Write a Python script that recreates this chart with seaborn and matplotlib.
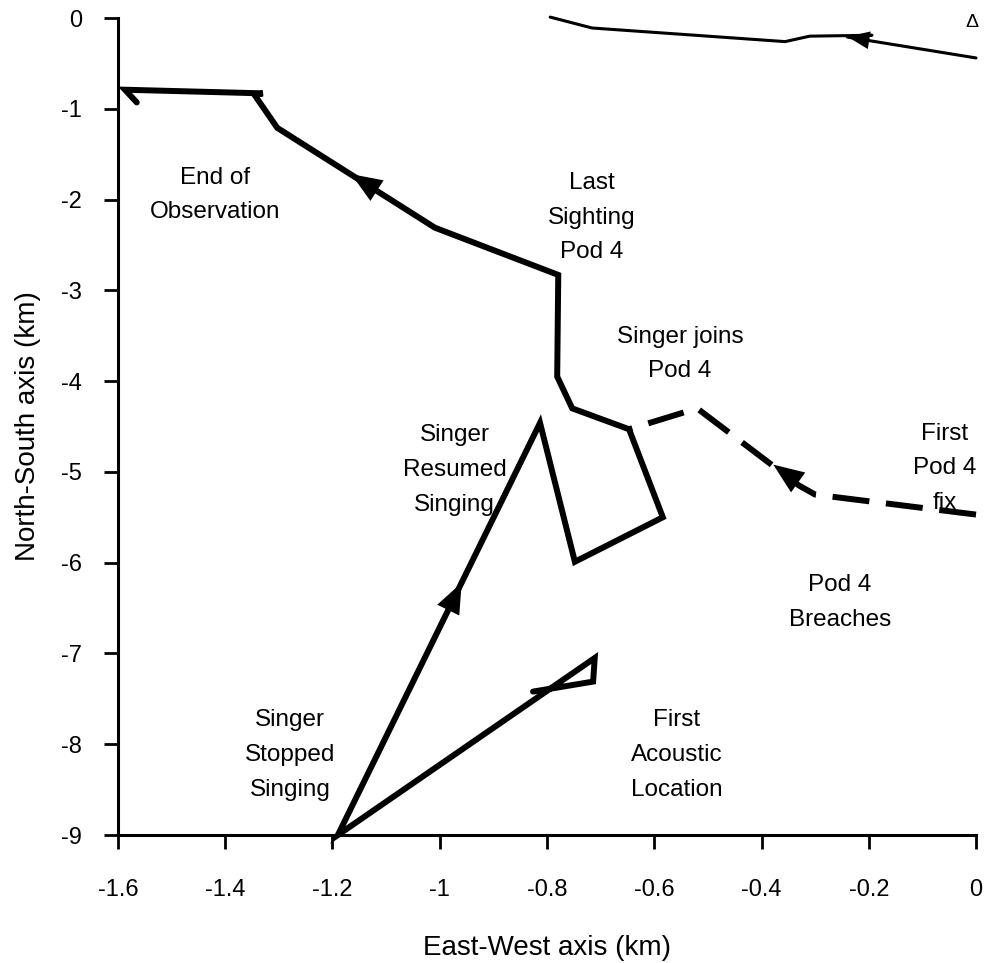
import matplotlib
matplotlib.use("Agg")
import matplotlib.pyplot as plt
import seaborn as sns
import pandas as pd

# ---- data (km) ----
singer_x = [-0.826, -0.714, -0.711, -1.19, -0.813, -0.748, -0.584, -0.647, -0.753,
            -0.781, -0.779, -1.009, -1.303, -1.345, -1.33, -1.587, -1.565]
singer_y = [-7.42, -7.31, -7.05, -9.0, -4.46, -5.99, -5.50, -4.53, -4.30,
            -3.95, -2.83, -2.31, -1.21, -0.85, -0.83, -0.79, -0.93]

pod4_x = [0.0, -0.30, -0.33, -0.52, -0.647]
pod4_y = [-5.47, -5.25, -5.15, -4.30, -4.53]

top_x = [-0.794, -0.716, -0.356, -0.31, -0.194, -0.24, 0.0]
top_y = [0.01, -0.11, -0.26, -0.20, -0.19, -0.21, -0.44]

# arrow heads: (tail_x, tail_y, tip_x, tip_y) - tail is the segment start
arrows = [(-1.009, -2.31, -1.165, -1.72),
          (-1.19, -9.0, -0.959, -6.22),
          (-0.30, -5.25, -0.378, -4.92),
          (0.0, -0.44, -0.24, -0.205)]

labels = ["End of\nObservation", "Last\nSighting\nPod 4", "Singer joins\nPod 4",
          "Singer\nResumed\nSinging", "First\nPod 4\nfix", "Pod 4\nBreaches",
          "Singer\nStopped\nSinging", "First\nAcoustic\nLocation"]
label_x = [-1.419, -0.716, -0.552, -0.972, -0.058, -0.254, -1.279, -0.558]
label_y = [-1.95, -2.20, -3.70, -4.98, -4.96, -6.44, -8.12, -8.12]

x_ticks = [-1.6, -1.4, -1.2, -1.0, -0.8, -0.6, -0.4, -0.2, 0.0]
x_ticklabels = ["-1.6", "-1.4", "-1.2", "-1", "-0.8", "-0.6", "-0.4", "-0.2", "0"]
y_ticks = [0, -1, -2, -3, -4, -5, -6, -7, -8, -9]
y_ticklabels = ["0", "-1", "-2", "-3", "-4", "-5", "-6", "-7", "-8", "-9"]

# ---- style ----
sns.set_style("ticks")
plt.rcParams['font.family'] = ['Liberation Sans', 'DejaVu Sans']
plt.rcParams['text.color'] = 'black'
plt.rcParams['axes.labelcolor'] = 'black'
plt.rcParams['xtick.color'] = 'black'
plt.rcParams['ytick.color'] = 'black'
plt.rcParams['axes.edgecolor'] = 'black'

fig = plt.figure(figsize=(9.94, 9.63), dpi=100)
ax = fig.add_axes([0.1187, 0.1329, 0.8632, 0.8484])

df_s = pd.DataFrame({"x": singer_x, "y": singer_y})
df_p = pd.DataFrame({"x": pod4_x, "y": pod4_y})
df_t = pd.DataFrame({"x": top_x, "y": top_y})

sns.lineplot(data=df_s, x="x", y="y", sort=False, estimator=None, ax=ax,
             color="black", lw=4.3, solid_joinstyle="miter")
sns.lineplot(data=df_p, x="x", y="y", sort=False, estimator=None, ax=ax,
             color="black", lw=4.3)
ax.lines[-1].set_dashes([6.2, 2.8])
sns.lineplot(data=df_t, x="x", y="y", sort=False, estimator=None, ax=ax,
             color="black", lw=2.2)

for i, (tx, ty, hx, hy) in enumerate(arrows):
    ms = 16 if i == 3 else 22
    ax.annotate("", xy=(hx, hy), xytext=(tx, ty),
                arrowprops=dict(arrowstyle="-|>,head_length=1.0,head_width=0.4",
                                mutation_scale=ms, color="black", lw=0,
                                shrinkA=0, shrinkB=0))

for t, lx, ly in zip(labels, label_x, label_y):
    ax.text(lx, ly, t, ha="center", va="center", fontsize=17.5,
            linespacing=1.75, color="black")

ax.text(-0.008, -0.05, "\u0394", ha="center", va="center", fontsize=14, color="black")

ax.set_xlim(-1.6, 0.0)
ax.set_ylim(-9, 0)
ax.set_xticks(x_ticks)
ax.set_xticklabels(x_ticklabels)
ax.set_yticks(y_ticks)
ax.set_yticklabels(y_ticklabels)
ax.tick_params(axis="both", labelsize=17, width=2, length=10, color="black",
               labelcolor="black")
ax.tick_params(axis="x", pad=22)
ax.tick_params(axis="y", pad=16)
ax.set_xlabel("East-West axis (km)", fontsize=20, labelpad=24, color="black")
ax.set_ylabel("North-South axis (km)", fontsize=20, labelpad=14, color="black")
sns.despine(ax=ax)
for s in ["left", "bottom"]:
    ax.spines[s].set_linewidth(2.2)
    ax.spines[s].set_color("black")
for ln in ax.lines:
    ln.set_clip_on(False)
ax.set_facecolor("white")
fig.patch.set_facecolor("white")

fig.savefig("out.png", dpi=100)
